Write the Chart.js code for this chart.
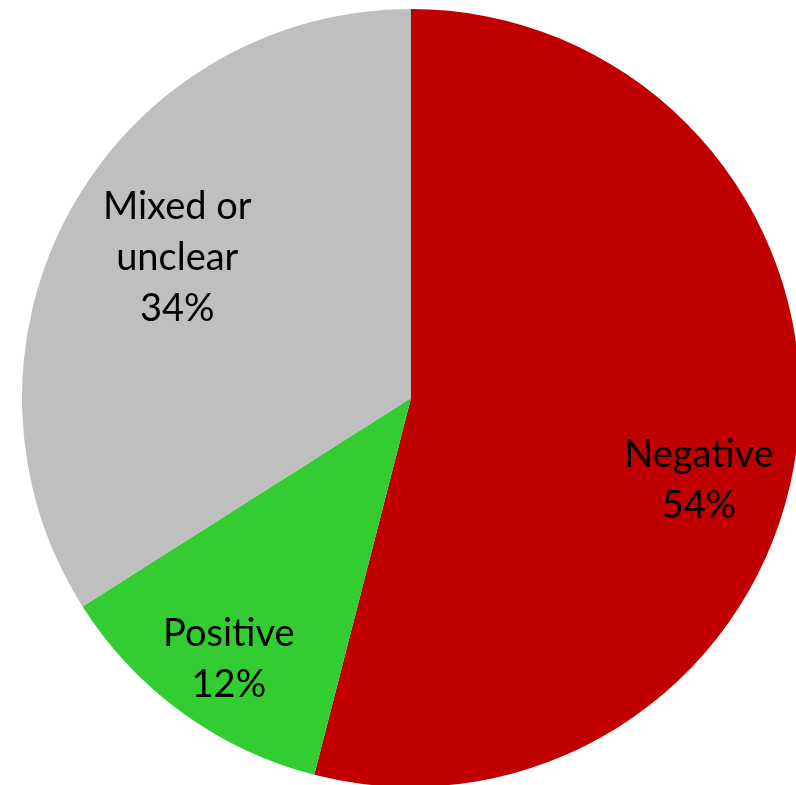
<!DOCTYPE html>
<html>
<head>
<meta charset="utf-8">
<script src="https://cdn.jsdelivr.net/npm/chart.js@4/dist/chart.umd.min.js"></script>
<style>
  html, body { margin: 0; padding: 0; background: #fff; overflow: hidden; width: 796px; height: 785px; }
  canvas { position: absolute; left: 0; top: 0; }
</style>
</head>
<body>
<canvas id="c" width="822" height="787"></canvas>
<script>
const categories = ["Negative", "Positive", "Mixed or unclear"];
const labelLines = [["Negative"], ["Positive"], ["Mixed or", "unclear"]];
const values = [54, 12, 34];
const colors = ["#C00000", "#33CC33", "#BFBFBF"];

// label placement: [fraction of slice angle, fraction of radius]
const placement = [[0.545, 0.77], [0.475, 0.818], [0.517, 0.70]];

const labelPlugin = {
  id: 'sliceLabels',
  afterDatasetsDraw(chart) {
    const ctx = chart.ctx;
    const meta = chart.getDatasetMeta(0);
    const total = values.reduce((a, b) => a + b, 0);
    ctx.save();
    ctx.fillStyle = '#000';
    ctx.font = '38px Lato';
    ctx.textAlign = 'center';
    ctx.textBaseline = 'middle';
    const lh = 51;
    meta.data.forEach((arc, i) => {
      const p = arc.getProps(['x', 'y', 'startAngle', 'endAngle', 'outerRadius'], true);
      const a = p.startAngle + (p.endAngle - p.startAngle) * placement[i][0];
      const r = p.outerRadius * placement[i][1];
      const cx = p.x + Math.cos(a) * r;
      const cy = p.y + Math.sin(a) * r;
      const lines = labelLines[i].concat([Math.round(values[i] / total * 100) + '%']);
      const y0 = cy - (lines.length - 1) * lh / 2;
      lines.forEach((t, k) => ctx.fillText(t, cx, y0 + k * lh));
    });
    ctx.restore();
  }
};

new Chart(document.getElementById('c'), {
  type: 'pie',
  data: {
    labels: categories,
    datasets: [{
      data: values,
      backgroundColor: colors,
      borderWidth: 0,
      hoverOffset: 0
    }]
  },
  options: {
    responsive: false,
    animation: false,
    devicePixelRatio: 1,
    layout: { padding: { top: 9, bottom: 0, left: 0, right: 0 } },
    plugins: { legend: { display: false }, tooltip: { enabled: false } }
  },
  plugins: [labelPlugin]
});
</script>
</body>
</html>
